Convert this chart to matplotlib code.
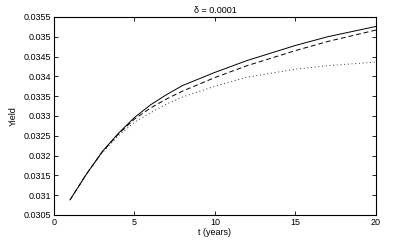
import matplotlib
matplotlib.use("Agg")
import matplotlib.pyplot as plt

# maturities (years) and yields
t = [1, 2, 3, 4, 5, 6, 7, 8, 10, 12, 15, 17, 20]
yield_solid = [0.03088, 0.03152, 0.03210, 0.03256, 0.03296, 0.03328, 0.03354,
               0.03377, 0.03410, 0.03440, 0.03478, 0.03500, 0.03526]
yield_dashed = [0.03088, 0.03152, 0.03209, 0.03254, 0.03292, 0.03320, 0.03343,
                0.03363, 0.03397, 0.03427, 0.03465, 0.03488, 0.03517]
yield_dotted = [0.03088, 0.03151, 0.03207, 0.03250, 0.03284, 0.03308, 0.03330,
                0.03348, 0.03375, 0.03398, 0.03418, 0.03427, 0.03436]

xticks = [0, 5, 10, 15, 20]
yticks = [0.0305, 0.031, 0.0315, 0.032, 0.0325, 0.033, 0.0335, 0.034, 0.0345, 0.035, 0.0355]
ytick_labels = ["0.0305", "0.031", "0.0315", "0.032", "0.0325", "0.033",
                "0.0335", "0.034", "0.0345", "0.035", "0.0355"]

plt.rcParams['font.family'] = ['Liberation Sans', 'DejaVu Sans']

fig = plt.figure(figsize=(4.15, 2.42), dpi=100)
ax = fig.add_axes([0.130, 0.112, 0.776, 0.818])

ax.plot(t, yield_solid, color='black', linestyle='-', linewidth=0.7)
ax.plot(t, yield_dashed, color='black', linestyle=(0, (5, 3)), linewidth=0.7)
ax.plot(t, yield_dotted, color='#333333', linestyle=(0, (1, 2.8)), linewidth=0.7)

ax.set_xlim(0, 20)
ax.set_ylim(0.0305, 0.0355)
ax.set_xticks(xticks)
ax.set_yticks(yticks)
ax.set_yticklabels(ytick_labels)
ax.tick_params(direction='in', top=True, right=True, labelsize=6.5, length=3, width=0.6, pad=2)
for s in ax.spines.values():
    s.set_linewidth(0.8)

ax.set_xlabel("t (years)", fontsize=6.5, labelpad=1)
ax.set_ylabel("Yield", fontsize=6.5, labelpad=4)
ax.set_title("δ = 0.0001", fontsize=6.5, pad=3)

fig.savefig("out.png", dpi=100)
